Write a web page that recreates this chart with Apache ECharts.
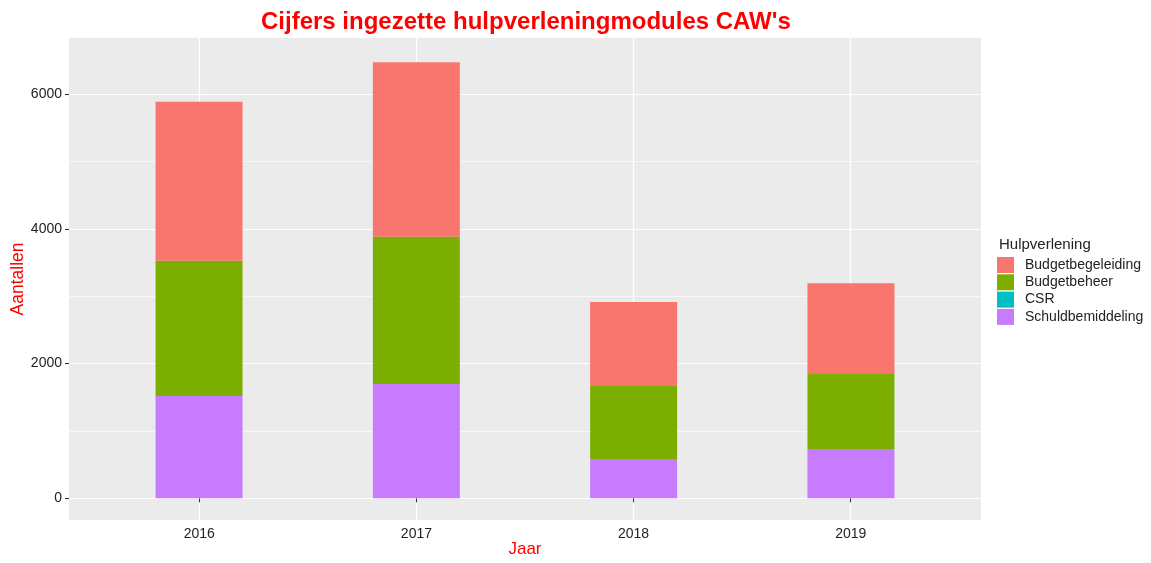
<!DOCTYPE html>
<html>
<head>
<meta charset="utf-8">
<script src="https://cdn.jsdelivr.net/npm/echarts@6/dist/echarts.min.js"></script>
<style>
  html, body { margin: 0; padding: 0; background: #fff; }
  #chart { width: 1151px; height: 563px; }
</style>
</head>
<body>
<div id="chart"></div>
<script>
var years = ['2016', '2017', '2018', '2019'];
var yearPos = [1, 2, 3, 4];
var schuldbemiddeling = [1518, 1696, 583, 721];
var csr = [0, 0, 0, 0];
var budgetbeheer = [2008, 2186, 1084, 1124];
var budgetbegeleiding = [2360, 2589, 1246, 1346];
var yTicks = [0, 2000, 4000, 6000];
var yMinor = [1000, 3000, 5000];

var chart = echarts.init(document.getElementById('chart'));

var font = 'Liberation Sans, Arial, sans-serif';
var txt = '#222';
var yMin = -322, yMax = 6831;

function barSeries(name, color, vals) {
  return {
    name: name, type: 'bar', stack: 'a', barWidth: 87,
    xAxisIndex: 1, yAxisIndex: 2,
    itemStyle: { color: color },
    data: vals
  };
}

var option = {
  animation: false,
  textStyle: { fontFamily: font },
  title: [{
    text: "Cijfers ingezette hulpverleningmodules CAW's",
    left: 256,
    top: 5,
    textStyle: { color: '#ff0000', fontSize: 24, fontWeight: 'bold', fontFamily: font }
  }, {
    text: 'Hulpverlening',
    left: 994,
    top: 232,
    textStyle: { color: txt, fontSize: 15, fontWeight: 'normal', fontFamily: font }
  }],
  legend: {
    orient: 'vertical',
    left: 992,
    top: 252,
    icon: 'rect',
    itemWidth: 17,
    itemHeight: 16,
    itemGap: 1.3,
    data: ['Budgetbegeleiding', 'Budgetbeheer', 'CSR', 'Schuldbemiddeling'],
    textStyle: { color: txt, fontSize: 14, fontFamily: font, padding: [0, 0, 0, 6] }
  },
  grid: [{
    left: 69, right: 170, top: 38, bottom: 43,
    show: true, backgroundColor: '#EBEBEB', borderWidth: 0,
    outerBoundsMode: 'none', containLabel: false
  }, {
    // data area: the four year bands, inset like ggplot's discrete expansion
    left: 90.4, right: 191.4, top: 38, bottom: 43,
    outerBoundsMode: 'none', containLabel: false
  }],
  xAxis: [{
    type: 'value',
    gridIndex: 0,
    min: 0.4,
    max: 4.6,
    name: 'Jaar',
    nameLocation: 'middle',
    nameGap: 21,
    nameMoveOverlap: false,
    nameTextStyle: { color: '#ff0000', fontSize: 17, fontFamily: font },
    axisLine: { show: false },
    axisTick: { show: true, length: 4, customValues: yearPos, lineStyle: { color: '#333' } },
    axisLabel: {
      customValues: yearPos, margin: 7, color: txt, fontSize: 14,
      formatter: function (v) { return years[Math.round(v) - 1]; }
    },
    splitLine: { show: true, lineStyle: { color: '#fff', width: 1.2 } }
  }, {
    type: 'category',
    gridIndex: 1,
    data: years,
    show: false
  }],
  yAxis: [{
    type: 'value',
    gridIndex: 0,
    min: yMin,
    max: yMax,
    name: 'Aantallen',
    nameLocation: 'middle',
    nameGap: 42,
    nameMoveOverlap: false,
    nameTextStyle: { color: '#ff0000', fontSize: 17.5, fontFamily: font },
    axisLine: { show: false },
    axisTick: { show: true, length: 4, customValues: yTicks, lineStyle: { color: '#333' } },
    axisLabel: {
      customValues: yTicks, margin: 7, color: txt, fontSize: 14,
      formatter: function (v) { return String(v); }
    },
    splitLine: { show: true, lineStyle: { color: '#fff', width: 1.2 } }
  }, {
    type: 'value',
    gridIndex: 0,
    min: yMin,
    max: yMax,
    position: 'left',
    axisLine: { show: false },
    axisTick: { show: false, customValues: yMinor },
    axisLabel: { show: false, customValues: yMinor },
    splitLine: { show: true, lineStyle: { color: '#fff', width: 0.6 } }
  }, {
    type: 'value',
    gridIndex: 1,
    min: yMin,
    max: yMax,
    show: false,
    splitLine: { show: false }
  }],
  series: [
    barSeries('Schuldbemiddeling', '#C77CFF', schuldbemiddeling),
    barSeries('CSR', '#00BFC4', csr),
    barSeries('Budgetbeheer', '#7CAE00', budgetbeheer),
    barSeries('Budgetbegeleiding', '#F8766D', budgetbegeleiding)
  ]
};

chart.setOption(option);
</script>
</body>
</html>
